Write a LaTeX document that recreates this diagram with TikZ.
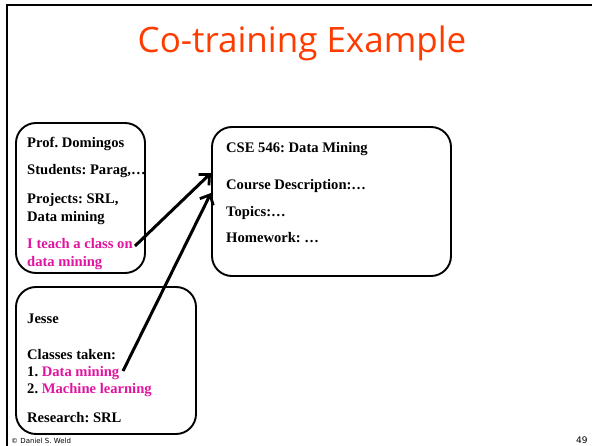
\documentclass[tikz,border=0pt]{standalone}
\usepackage{fontspec}
\setmainfont{Liberation Serif}
\newfontfamily\titlefont{Open Sans}
\newfontfamily\footfont{DejaVu Sans}
\usetikzlibrary{arrows.meta}
\definecolor{titlered}{RGB}{255,60,0}
\definecolor{mag}{RGB}{225,20,160}
\frenchspacing
\tikzset{
  frameline/.style={line width=1.6pt, line cap=rect},
  card/.style={draw, line width=1.9pt, rounded corners=20pt},
  txt/.style={anchor=base west, inner sep=0pt, font=\fontsize{14.6}{17.5}\selectfont\bfseries\frenchspacing, text=black},
  hl/.style={txt, text=mag},
  link/.style={line width=3pt, -{Straight Barb[length=8pt,width=15pt,line width=2.8pt]}},
  foot/.style={anchor=base west, inner sep=0pt, font=\footfont\fontsize{7}{8}\selectfont}
}
\begin{document}
\begin{tikzpicture}[x=1pt,y=-1pt]
\useasboundingbox (0,0) rectangle (592,446);
\fill[white] (0,0) rectangle (592,446);
% frame
\draw[frameline] (7,446) -- (7,5) -- (592,5);
% title
\node[inner sep=0pt, anchor=base, text=titlered, font=\titlefont\fontsize{35}{40}\selectfont] (title) at (302,53) {Co-training Example};
% boxes
\draw[card] (16,123) rectangle (145,273);
\draw[card] (16,287) rectangle (196,434);
\draw[card] (212,127) rectangle (451,276);
\coordinate (b3w1) at (211,173);
\coordinate (b3w2) at (211,193);
% box 1 text
\node[txt] (prof) at (27,148) {Prof. Domingos};
\node[txt] (stud) at (27,175) {Students: Parag,…};
\node[txt] (proj1) at (27,204) {Projects: SRL,};
\node[txt] (proj2) at (27,222) {Data mining};
\node[hl] (teach) at (27,249) {I teach a class on};
\node[hl] (dm) at (27,267) {data mining};
% box 2 text
\node[txt] (jesse) at (27,324) {Jesse};
\node[txt] (cls) at (27,360) {Classes taken:};
\node[txt] (c1) at (27,377) {1. \textcolor{mag}{Data mining}};
\node[txt] (c2) at (27,394) {2. \textcolor{mag}{Machine learning}};
\node[txt] (res) at (27,422) {Research: SRL};
% box 3 text
\node[txt] (cse) at (226,153) {CSE 546: Data Mining};
\node[txt] (desc) at (226,190) {Course Description:…};
\node[txt] (top) at (226,217) {Topics:…};
\node[txt] (hw) at (226,243) {Homework: …};
% arrows
\coordinate (s1) at (135,246);
\coordinate (s2) at (123,371);
\draw[link] (s1) -- (b3w1);
\draw[link] (s2) -- (b3w2);
% footer
\node[foot] (copy) at (11,443) {© Daniel S. Weld};
\node[foot, font=\footfont\fontsize{9}{10}\selectfont] (page) at (576,443) {49};
\end{tikzpicture}
\end{document}
